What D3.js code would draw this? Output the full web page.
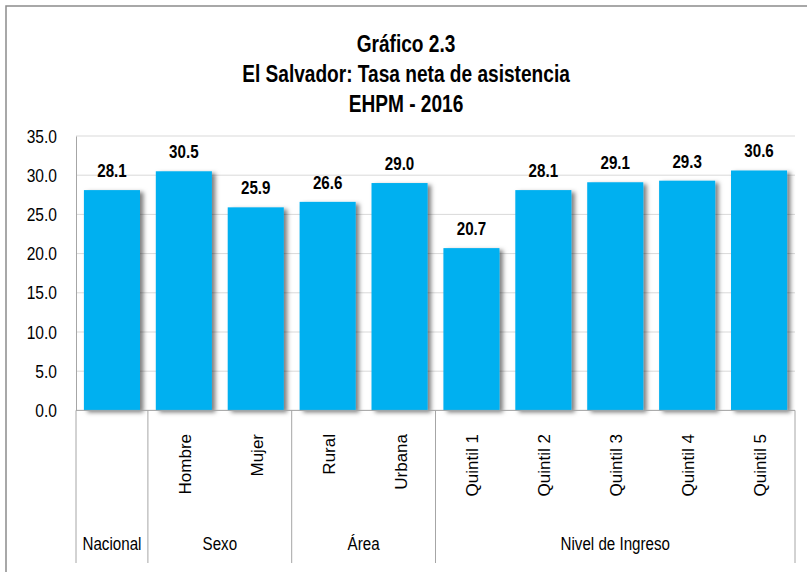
<!DOCTYPE html>
<html>
<head>
<meta charset="utf-8">
<script src="https://cdn.jsdelivr.net/npm/d3@7"></script>
<style>
  html, body { margin: 0; padding: 0; background: #fff; }
  svg { display: block; }
  text { font-family: "Liberation Sans", Arial, sans-serif; }
</style>
</head>
<body>
<svg id="chart" width="807" height="572"></svg>
<script>
const categories = ["Nacional", "Hombre", "Mujer", "Rural", "Urbana", "Quintil 1", "Quintil 2", "Quintil 3", "Quintil 4", "Quintil 5"];
const values = [28.1, 30.5, 25.9, 26.6, 29.0, 20.7, 28.1, 29.1, 29.3, 30.6];
const groups = ["Nacional", "Sexo", "Área", "Nivel de Ingreso"];
const groupStart = [0, 1, 3, 5];
const groupSize = [1, 2, 2, 5];
const yTicks = [0, 5, 10, 15, 20, 25, 30, 35];
const titleLines = ["Gráfico 2.3", "El Salvador: Tasa neta de asistencia", "EHPM - 2016"];

(function () {
const svg = d3.select("#chart");
const W = 807, H = 572;
const pLeft = 76, pRight = 795, pTop = 136, pBottom = 410.4;
const NARROW = 0.82;

// narrow text helper (Arial Narrow ≈ 82% width of Arial)
function narrow(sel, xf, yf, size, weight) {
  return sel.attr("transform", (d, i) => `translate(${xf(d, i)},${yf(d, i)}) scale(${NARROW},1)`)
    .attr("font-size", size).attr("font-weight", weight || "normal")
    .attr("text-anchor", "middle").attr("fill", "#000");
}

// outer border
svg.append("rect").attr("x", 6).attr("y", 6).attr("width", W + 10).attr("height", H + 10)
  .attr("fill", "#fff").attr("stroke", "#8c8c8c").attr("stroke-width", 1.5);

const defs = svg.append("defs");
const f = defs.append("filter").attr("id", "shadow").attr("x", "-20%").attr("y", "-20%").attr("width", "150%").attr("height", "150%");
f.append("feDropShadow").attr("dx", 3.5).attr("dy", 2).attr("stdDeviation", 2)
  .attr("flood-color", "#000").attr("flood-opacity", 0.5);

// title
narrow(svg.append("g").selectAll("text").data(titleLines).join("text"),
  () => 406, (d, i) => 52 + i * 30, 23.3, "bold").text(d => d);

const x = d3.scaleBand().domain(categories).range([pLeft, pRight]).paddingInner(0.22).paddingOuter(0.11);
const y = d3.scaleLinear().domain([0, 35]).range([pBottom, pTop]);

// gridlines
svg.append("g").selectAll("line").data(yTicks).join("line")
  .attr("x1", pLeft).attr("x2", pRight)
  .attr("y1", d => y(d)).attr("y2", d => y(d))
  .attr("stroke", "#d9d9d9").attr("stroke-width", 1);

// y axis
const yAxis = svg.append("g").attr("transform", `translate(${pLeft},0)`)
  .call(d3.axisLeft(y).tickValues(yTicks).tickFormat(d3.format(".1f")).tickSize(0).tickPadding(19));
yAxis.select(".domain").attr("stroke", "#a6a6a6");
yAxis.selectAll("text")
  .attr("font-family", "Liberation Sans, Arial, sans-serif")
  .attr("font-size", 19).attr("fill", "#000")
  .attr("x", -19 / NARROW).attr("transform", `scale(${NARROW},1)`);

// bars
svg.append("g").selectAll("rect").data(values).join("rect")
  .attr("x", (d, i) => x(categories[i]))
  .attr("y", d => y(d))
  .attr("width", x.bandwidth())
  .attr("height", d => y(0) - y(d))
  .attr("fill", "#00b0f0")
  .attr("filter", "url(#shadow)");

// value labels
narrow(svg.append("g").selectAll("text").data(values).join("text"),
  (d, i) => x(categories[i]) + x.bandwidth() / 2, d => y(d) - 13, 18.5, "bold")
  .text(d => d3.format(".1f")(d));

// x axis line
svg.append("line").attr("x1", pLeft).attr("x2", pRight).attr("y1", pBottom).attr("y2", pBottom)
  .attr("stroke", "#a6a6a6").attr("stroke-width", 1);

// group separators
const step = x.step();
const boundaries = groupStart.map(s => pLeft + s * step).concat([pRight]);
svg.append("g").selectAll("line").data(boundaries).join("line")
  .attr("x1", d => d).attr("x2", d => d)
  .attr("y1", pBottom).attr("y2", 563)
  .attr("stroke", "#a6a6a6").attr("stroke-width", 1);

// rotated category labels
svg.append("g").selectAll("text").data(categories.slice(1)).join("text")
  .attr("transform", d => `translate(${x(d) + x.bandwidth() / 2 + 7},434) rotate(-90)`)
  .attr("text-anchor", "end")
  .attr("font-size", 17).attr("fill", "#000").text(d => d);

// group labels
narrow(svg.append("g").selectAll("text").data(groups).join("text"),
  (d, i) => pLeft + (groupStart[i] + groupSize[i] / 2) * step, () => 550, 18.5)
  .text(d => d);
})();
</script>
</body>
</html>
